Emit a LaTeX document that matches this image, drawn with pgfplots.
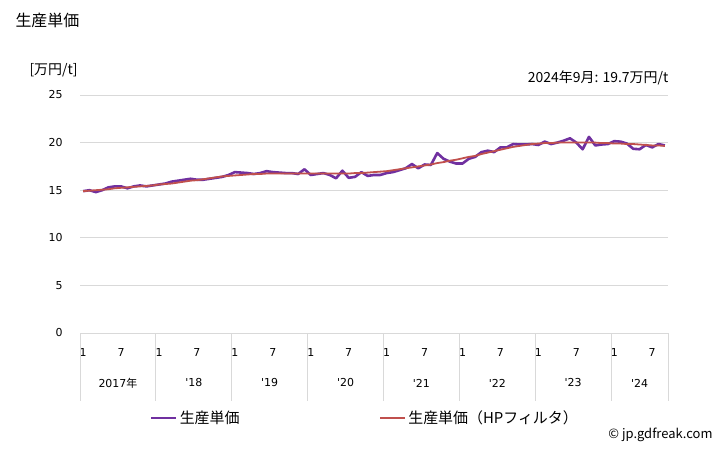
\documentclass[border=0pt]{standalone}
\usepackage{fontspec}
\setmainfont{Noto Sans CJK JP}
\newfontfamily\dv{DejaVu Sans}
\usepackage{pgfplots}
\pgfplotsset{compat=1.18}
\usepackage{pgfplotstable}
\definecolor{ppl}{HTML}{7030A0}
\definecolor{hp}{HTML}{C0504D}
\definecolor{grd}{HTML}{D9D9D9}

% monthly, 2017-01 .. 2024-09 ; v = unit price, t = HP trend
\pgfplotstableread{
m v t
0 14.9 14.9
1 15.0 14.95
2 14.8 15.0
3 15.0 15.05
4 15.3 15.1
5 15.4 15.2
6 15.4 15.25
7 15.2 15.3
8 15.4 15.35
9 15.5 15.4
10 15.4 15.45
11 15.5 15.5
12 15.6 15.6
13 15.7 15.65
14 15.9 15.7
15 16.0 15.8
16 16.1 15.9
17 16.2 16.0
18 16.1 16.05
19 16.1 16.15
20 16.2 16.25
21 16.3 16.35
22 16.4 16.45
23 16.6 16.5
24 16.9 16.55
25 16.85 16.6
26 16.8 16.65
27 16.7 16.7
28 16.8 16.7
29 17.0 16.75
30 16.9 16.75
31 16.85 16.75
32 16.8 16.75
33 16.8 16.75
34 16.7 16.75
35 17.2 16.75
36 16.6 16.75
37 16.7 16.75
38 16.8 16.75
39 16.6 16.75
40 16.25 16.75
41 17.05 16.75
42 16.3 16.75
43 16.4 16.8
44 16.9 16.8
45 16.5 16.85
46 16.6 16.9
47 16.6 16.95
48 16.8 17.0
49 16.9 17.1
50 17.1 17.2
51 17.3 17.3
52 17.75 17.4
53 17.3 17.5
54 17.7 17.6
55 17.65 17.7
56 18.9 17.85
57 18.3 17.95
58 18.0 18.1
59 17.8 18.2
60 17.8 18.35
61 18.3 18.5
62 18.5 18.6
63 19.0 18.8
64 19.15 18.95
65 19.0 19.1
66 19.5 19.25
67 19.5 19.4
68 19.85 19.55
69 19.8 19.65
70 19.8 19.75
71 19.85 19.85
72 19.75 19.9
73 20.1 19.95
74 19.85 19.95
75 20.0 20.0
76 20.2 20.0
77 20.45 20.0
78 20.0 20.0
79 19.3 20.0
80 20.6 20.0
81 19.7 20.0
82 19.8 19.95
83 19.85 19.95
84 20.15 19.9
85 20.1 19.9
86 19.9 19.85
87 19.35 19.85
88 19.3 19.8
89 19.75 19.75
90 19.5 19.7
91 19.85 19.7
92 19.7 19.65
}\data

\begin{document}
\begin{tikzpicture}
\path[use as bounding box] (0,0) rectangle (728bp,450bp);
\node[anchor=west, font=\fontsize{16}{18}\selectfont] at (12bp,430bp) {生産単価};
\node[anchor=west, font=\fontsize{14}{16}\selectfont] at (26bp,380bp) {[万円/t]};
\node[anchor=east, font=\fontsize{14}{16}\selectfont] at (672bp,372bp) {2024年9月: 19.7万円/t};
\node[anchor=east, font=\fontsize{13}{15}\selectfont] at (716bp,15bp) {© jp.gdfreak.com};
\begin{axis}[
  at={(80bp,117bp)}, anchor=south west,
  scale only axis, width=588bp, height=238bp,
  xmin=-0.5, xmax=92.5, ymin=0, ymax=25,
  ytick={0,5,...,25},
  xtick={0,6,...,90},
  xticklabels={1,7,1,7,1,7,1,7,1,7,1,7,1,7,1,7},
  /pgf/number format/assume math mode=true,
  axis line style={draw=none},
  ymajorgrids, major grid style={draw=grd, line width=0.9bp},
  major tick length=0pt,
  xtick pos=lower, ytick pos=left,
  tick label style={font=\dv\fontsize{11}{12}\selectfont},
  yticklabel style={anchor=east, xshift=-14bp},
  xticklabel style={anchor=center, yshift=-20bp},
  extra x ticks={-0.5,11.5,23.5,35.5,47.5,59.5,71.5,83.5,92.5},
  extra x tick labels={},
  extra x tick style={grid=none, major tick length=68bp, tick align=outside,
    tick style={draw=grd, line width=0.9bp}},
  clip=false,
  legend columns=2,
  legend style={at={(0.119,-0.357)}, anchor=west, draw=none, fill=none,
    inner sep=0pt, font=\fontsize{15}{17}\selectfont,
    /tikz/every even column/.append style={column sep=138bp}},
  legend image code/.code={\draw[#1] (0bp,0bp) -- (25bp,0bp);},
]
\addplot[ppl, line width=2.6bp, line join=round] table[x=m, y=v] {\data};
\addlegendentry{生産単価}
\addplot[hp, line width=1.8bp, line join=round] table[x=m, y=t] {\data};
\addlegendentry{生産単価（HPフィルタ）}
\foreach \c/\l in {5.5/{{\dv 2017}年}, 17.5/{\dv'18}, 29.5/{\dv'19}, 41.5/{\dv'20},
                   53.5/{\dv'21}, 65.5/{\dv'22}, 77.5/{\dv'23}, 88/{\dv'24}} {
  \edef\tmp{\noexpand\node[font=\noexpand\fontsize{11}{12}\noexpand\selectfont] at (axis cs:\c,0) [yshift=-50bp] {\unexpanded\expandafter{\l}};}
  \tmp
}
\end{axis}
\end{tikzpicture}
\end{document}
